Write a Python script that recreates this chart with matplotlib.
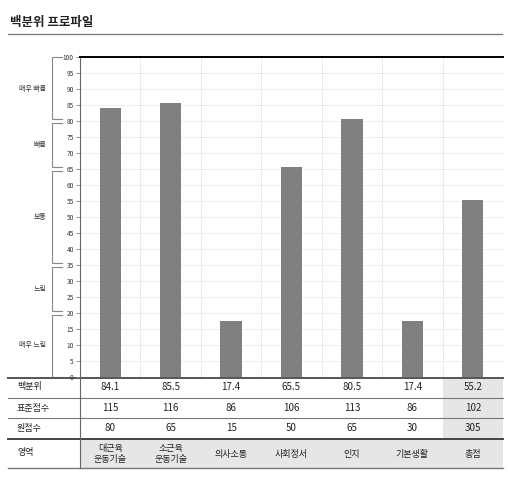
import matplotlib
matplotlib.use("Agg")
import matplotlib.pyplot as plt
import matplotlib.transforms as mtransforms
from matplotlib.patches import Rectangle

plt.rcParams["font.family"] = ["Noto Sans CJK KR", "DejaVu Sans"]

TITLE = "백분위 프로파일"
CATEGORIES = ["대근육\n운동기술", "소근육\n운동기술", "의사소통", "사회정서", "인지", "기본생활", "총점"]
PERCENTILE = [84.1, 85.5, 17.4, 65.5, 80.5, 17.4, 55.2]
STANDARD = [115, 116, 86, 106, 113, 86, 102]
RAW = [80, 65, 15, 50, 65, 30, 305]
ROW_LABELS = ["백분위", "표준점수", "원점수", "영역"]
BANDS = ["매우 빠름", "빠름", "보통", "느림", "매우 느림"]
BAND_RANGES = [(80, 100), (65, 80), (35, 65), (20, 35), (0, 20)]

W, H = 508, 478
fig = plt.figure(figsize=(W / 100, H / 100), dpi=100)

# overlay axes in pixel coordinates (y down)
over = fig.add_axes([0, 0, 1, 1])
over.set_xlim(0, W)
over.set_ylim(H, 0)
over.axis("off")

# chart area
x0, x1, ytop, ybot = 80, 503, 57, 377
ax = fig.add_axes([x0 / W, (H - ybot) / H, (x1 - x0) / W, (ybot - ytop) / H])
n = len(CATEGORIES)
xs = list(range(n))
ax.bar(xs, PERCENTILE, width=0.35, color="#808080", zorder=3)
ax.set_xlim(-0.5, n - 0.5)
ax.set_ylim(0, 100)
ax.set_yticks(range(0, 101, 5))
ax.tick_params(axis="y", labelsize=4.7, length=3, width=0.6, color="#888888",
               labelcolor="#333333", pad=1.5)
ax.set_xticks([])
for s in ["right", "bottom"]:
    ax.spines[s].set_visible(False)
ax.spines["top"].set_color("black")
ax.spines["top"].set_linewidth(1.4)
ax.spines["left"].set_color("#666666")
ax.spines["left"].set_linewidth(0.8)
for v in range(5, 100, 5):
    ax.axhline(v, color="#eeeeee", lw=0.7, zorder=1)
for i in range(n - 1):
    ax.axvline(i + 0.5, color="#e2e2e2", lw=0.7, ls=(0, (2, 1)), zorder=1)

# title
over.text(10, 22, TITLE, fontsize=9, fontweight="bold", color="#222222",
          ha="left", va="center")
over.plot([8, 502], [34, 34], color="#777777", lw=0.9)

# bands on the left
btrans = mtransforms.blended_transform_factory(over.transData, ax.transData)
for label, (lo, hi) in zip(BANDS, BAND_RANGES):
    top = hi - 0.5 if hi < 100 else hi
    bot = lo + 0.5 if lo > 0 else lo
    over.plot([62, 52, 52, 62], [top, top, bot, bot], color="#888888", lw=0.8,
              transform=btrans, clip_on=False)
    over.text(46, (lo + hi) / 2, label, fontsize=5, color="#333333",
              ha="right", va="center", transform=btrans)

# table
ttrans = mtransforms.blended_transform_factory(ax.transData, over.transData)
col_w = (x1 - x0) / n
over.add_patch(Rectangle((x0 + col_w * (n - 1), 378), col_w, 60, color="#e6e6e6", lw=0))
over.add_patch(Rectangle((x0, 439), x1 - x0, 29, color="#e6e6e6", lw=0))

row_y = [387, 408, 428]
for vals, y in zip([PERCENTILE, STANDARD, RAW], row_y):
    for i, v in enumerate(vals):
        over.text(i, y, str(v), fontsize=7, color="#222222", ha="center",
                  va="center", transform=ttrans)
for i, c in enumerate(CATEGORIES):
    over.text(i, 454, c, fontsize=6.5, color="#222222", ha="center", va="center",
              linespacing=1.15, transform=ttrans)
for label, y in zip(ROW_LABELS, row_y + [453]):
    over.text(17, y, label, fontsize=6.5, color="#222222", ha="left", va="center")

over.plot([8, 503], [377.5, 377.5], color="#555555", lw=1.4)
over.plot([8, 503], [398, 398], color="#777777", lw=0.8)
over.plot([8, 503], [418, 418], color="#777777", lw=0.8)
over.plot([8, 503], [438.5, 438.5], color="#444444", lw=1.4)
over.plot([8, 503], [468, 468], color="#777777", lw=1.0)
over.plot([80, 80], [377, 468], color="#666666", lw=0.8)

fig.savefig("out.png", dpi=100)
